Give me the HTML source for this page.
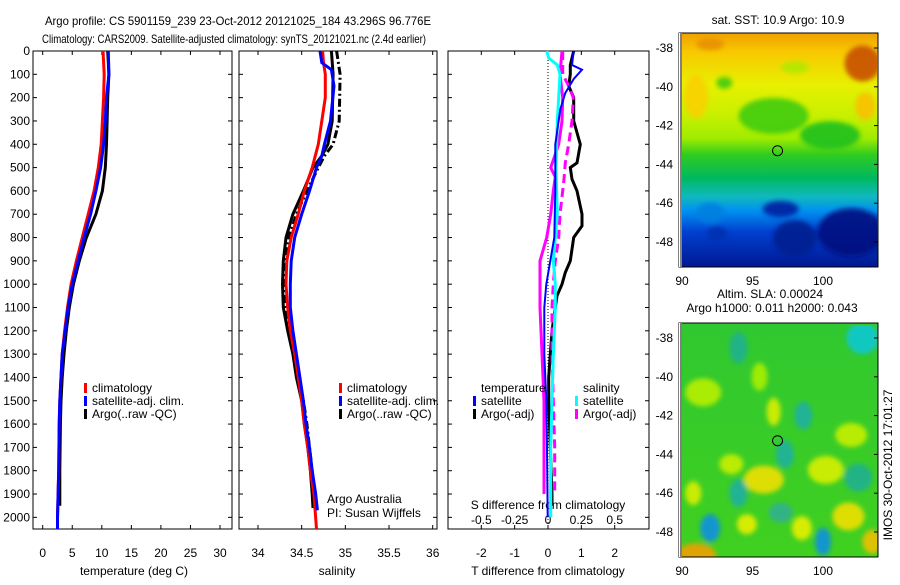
<!DOCTYPE html>
<html><head><meta charset="utf-8"><style>
body{margin:0;background:#fff;}
svg text{font-family:"Liberation Sans",sans-serif;font-size:12px;fill:#000;}
</style></head><body>
<svg id="fig" width="900" height="580" xmlns="http://www.w3.org/2000/svg">
<rect width="900" height="580" fill="#fff"/>
<text x="45" y="25" textLength="386" lengthAdjust="spacingAndGlyphs" font-size="14">Argo profile: CS 5901159_239 23-Oct-2012 20121025_184 43.296S 96.776E</text>
<text x="42" y="43" textLength="384" lengthAdjust="spacingAndGlyphs" font-size="14">Climatology: CARS2009. Satellite-adjusted climatology: synTS_20121021.nc (2.4d earlier)</text>
<g id="g1"></g>
<g id="g2"></g>
<g id="g3"></g>
<g id="m1"></g>
<g id="m2"></g>
<text transform="translate(892,465) rotate(-90)" text-anchor="middle">IMOS 30-Oct-2012 17:01:27</text>
</svg>
<script>
// ---- data ----
const depthTicks=[0,100,200,300,400,500,600,700,800,900,1000,1100,1200,1300,1400,1500,1600,1700,1800,1900,2000];
const tempTicks=[0,5,10,15,20,25,30];
const salTicks=[34,34.5,35,35.5,36];
const diffTTicks=[-2,-1,0,1,2];
const diffSTicks=[-0.5,-0.25,0,0.25,0.5];
const tDepth=[0,100,200,300,400,500,600,700,800,900,1000,1100,1200,1300,1400,1500,1600,1800,2000,2050];
const tClim=[10.2,10.4,10.3,10.1,9.9,9.4,8.7,7.7,6.7,5.7,4.8,4.2,3.7,3.3,3.1,2.9,2.8,2.7,2.5,2.5];
const tSat=[11.1,11.2,10.8,10.6,10.3,9.8,9.0,8.1,7.0,6.0,5.0,4.3,3.8,3.3,3.1,2.9,2.8,2.7,2.5,2.5];
const tArgoDepth=[0,100,200,300,400,500,600,700,800,900,1000,1100,1200,1300,1400,1500,1600,1800,1950];
const tArgo=[11.0,11.2,11.0,10.9,10.8,10.6,10.1,9.0,7.4,6.2,5.2,4.5,4.0,3.6,3.3,3.1,3.0,2.9,2.9];
const sDepth=[0,50,100,200,300,400,500,600,700,800,900,1000,1100,1200,1300,1400,1500,1600,1700,1800,1900,2050];
const sClim=[34.74,34.75,34.77,34.77,34.73,34.69,34.62,34.53,34.46,34.38,34.33,34.32,34.34,34.37,34.42,34.46,34.50,34.53,34.57,34.60,34.64,34.67];
const sSatDepth=[0,50,80,150,300,400,450,500,600,700,800,900,1000,1100,1200,1300,1400,1500,1600,1700,1800,1900,1970];
const sSat=[34.71,34.73,34.84,34.87,34.83,34.76,34.73,34.67,34.59,34.50,34.42,34.38,34.37,34.37,34.40,34.44,34.48,34.52,34.55,34.59,34.62,34.66,34.68];
const sArgoDepth=[0,100,300,400,450,500,600,700,800,900,1000,1100,1200,1300,1400,1500,1600,1700,1800,1900,1960];
const sArgo=[34.84,34.86,34.85,34.80,34.73,34.63,34.52,34.40,34.32,34.29,34.28,34.29,34.34,34.40,34.44,34.50,34.53,34.57,34.60,34.62,34.63];
const sArgoRaw=[34.90,34.94,34.93,34.86,34.76,34.69,34.56,34.44,34.35,34.31,34.30,34.31,34.36,34.42,34.46,34.52,34.56,34.59,34.62,34.64,34.65];
const dSatTDepth=[0,60,80,120,180,250,400,600,800,900,1000,1100,1300,1500,1700,2000];
const dSatT=[0.77,0.72,1.02,0.77,0.52,0.37,0.22,0.22,0.19,0.07,-0.05,-0.11,-0.11,-0.05,-0.03,-0.01];
const dArgoTDepth=[0,30,60,100,150,200,300,400,480,500,550,600,700,750,800,900,950,1000,1050,1100,1200,1300,1400,1500,1700,1900,1950];
const dArgoT=[0.77,0.72,0.67,0.67,0.62,0.77,0.77,0.97,0.87,0.67,0.72,0.87,1.02,1.02,0.77,0.67,0.52,0.42,0.27,0.22,0.12,0.07,0.02,0.02,0.07,0.12,0.12];
const dSatSDepth=[0,30,60,100,200,300,500,700,900,1000,1100,1300,1500,1700,2000];
const dSatS=[-0.01,0.005,0.07,0.09,0.08,0.07,0.06,0.07,0.04,0.055,0.055,0.04,0.03,0.02,0.02];
const dArgoSDepth=[0,100,150,200,300,400,480,550,600,700,800,900,1000,1100,1300,1500,1700,1900];
const dArgoSDash=[0.11,0.11,0.155,0.19,0.18,0.155,0.13,0.12,0.11,0.09,0.08,0.055,0.04,0.03,0.03,0.04,0.05,0.05];
const dArgoSSolidDepth=[0,100,200,300,400,500,540,600,700,800,900,1000,1100,1300,1500,1700,1900];
const dArgoSSolid=[0.105,0.09,0.11,0.105,0.08,0.02,0.055,0.04,0.02,-0.01,-0.06,-0.06,-0.06,-0.045,-0.03,-0.03,-0.03];

const NS='http://www.w3.org/2000/svg';
function el(parent,tag,attrs,txt){const e=document.createElementNS(NS,tag);for(const k in attrs)e.setAttribute(k,attrs[k]);if(txt!==undefined)e.textContent=txt;parent.appendChild(e);return e;}
const Y0=51,Y1=529;
const yD=d=>Y0+d*(Y1-Y0)/2050;
function lin(d0,d1,r0,r1){return v=>r0+(v-d0)*(r1-r0)/(d1-d0);}
function frame(g,x0,x1,name){
  const r=el(g,'rect',{x:x0,y:Y0,width:x1-x0,height:Y1-Y0,fill:'none',stroke:'#000','stroke-width':1});
  
  
  depthTicks.forEach(d=>{el(g,'line',{x1:x0,x2:x0+4,y1:yD(d),y2:yD(d),stroke:'#000'});el(g,'line',{x1:x1,x2:x1-4,y1:yD(d),y2:yD(d),stroke:'#000'});});
}
function series(g,xs,ds,fx,color,name,extra){
  const p=el(g,'polyline',Object.assign({points:xs.map((v,i)=>fx(v).toFixed(1)+','+yD(ds[i]).toFixed(1)).join(' '),fill:'none',stroke:color,'stroke-width':3,'stroke-linejoin':'miter'},extra||{}));
  
  
}
function xticks(g,ticks,fx,y,labels){ticks.forEach((t,i)=>{const x=fx(t);el(g,'line',{x1:x,x2:x,y1:Y1,y2:Y1-4,stroke:'#000'});el(g,'line',{x1:x,x2:x,y1:Y0,y2:Y0+4,stroke:'#000'});
  const tx=el(g,'text',{x:x,y:y,'text-anchor':'middle'},labels?labels[i]:String(t));
  
  });}
function legend(g,x,y,items){items.forEach((it,i)=>{el(g,'rect',{x:x,y:y+i*13-9,width:3,height:10,fill:it[0]});
  const t=el(g,'text',{x:x+8,y:y+i*13},it[1]);
  
  });}

// Panel 1
const g1=document.getElementById('g1');
const fT=lin(0,30,42.7,220);
frame(g1,33,232,'temperature-axes');
depthTicks.forEach(d=>{const t=el(g1,'text',{x:30,y:yD(d)+4,'text-anchor':'end'},String(d));
 
 });
xticks(g1,tempTicks,fT,557);
let t1=el(g1,'text',{x:134,y:575,'text-anchor':'middle'},'temperature (deg C)');


series(g1,tArgo,tArgoDepth,fT,'#000','argo-temperature-line');
series(g1,tClim,tDepth,fT,'#f00','climatology-temperature-line');
series(g1,tSat,tDepth,fT,'#00f','satellite-temperature-line');
legend(g1,84,392,[['#f00','climatology'],['#00f','satellite-adj. clim.'],['#000','Argo(..raw -QC)']]);

// Panel 2
const g2=document.getElementById('g2');
const fS=lin(34,36,258,432.7);
frame(g2,239,437,'salinity-axes');
xticks(g2,salTicks,fS,557);
let t2=el(g2,'text',{x:337,y:575,'text-anchor':'middle'},'salinity');


series(g2,sArgoRaw,sArgoDepth,fS,'#000','argo-raw-salinity-line',{'stroke-dasharray':'8,3,2,3'});
series(g2,sArgo,sArgoDepth,fS,'#000','argo-salinity-line');
series(g2,sClim,sDepth,fS,'#f00','climatology-salinity-line');
series(g2,sSat,sSatDepth,fS,'#00f','satellite-salinity-line');
legend(g2,339,392,[['#f00','climatology'],['#00f','satellite-adj. clim.'],['#000','Argo(..raw -QC)']]);
let a1=el(g2,'text',{x:327,y:503},'Argo Australia');
let a2=el(g2,'text',{x:327,y:517},'PI: Susan Wijffels');

// Panel 3
const g3=document.getElementById('g3');
const fD=lin(0,2,548,614.7);
const fDS=s=>fD(s*4);
frame(g3,448,649,'difference-axes');
el(g3,'line',{x1:fD(0),x2:fD(0),y1:Y0,y2:Y1,stroke:'#000','stroke-dasharray':'1,2'});
xticks(g3,diffTTicks,fD,557);
diffSTicks.forEach(s=>{const t=el(g3,'text',{x:fDS(s),y:524,'text-anchor':'middle'},String(s));});
let t3=el(g3,'text',{x:548,y:509,'text-anchor':'middle'},'S difference from climatology');
let t4=el(g3,'text',{x:548,y:575,'text-anchor':'middle'},'T difference from climatology');
series(g3,dArgoT,dArgoTDepth,fD,'#000','argo-temp-diff-line');
series(g3,dArgoSSolid,dArgoSSolidDepth,fDS,'#f0f','argo-sal-diff-line');
series(g3,dArgoSDash,dArgoSDepth,fDS,'#f0f','argo-raw-sal-diff-line',{'stroke-dasharray':'9,5'});
series(g3,dSatS,dSatSDepth,fDS,'#0ff','satellite-sal-diff-line');
series(g3,dSatT,dSatTDepth,fD,'#00f','satellite-temp-diff-line',{'stroke-width':2});
let lt=el(g3,'text',{x:481,y:392},'temperature');
let ls=el(g3,'text',{x:583,y:392},'salinity');
legend(g3,473,405,[['#00f','satellite'],['#000','Argo(-adj)']]);
legend(g3,575,405,[['#0ff','satellite'],['#f0f','Argo(-adj)']]);

// Maps
const lonTicks=[90,95,100], latTicks=[-38,-40,-42,-44,-46,-48];
function mapFrame(g,top,title1,title2,stops,blobs,name){
  const fx=lin(90,100,682,823), fy=lin(-38,-48,top+15,top+209);
  const id='grad'+top;
  const defs=el(g,'defs',{});
  const lg=el(defs,'linearGradient',{id:id,x1:0,y1:0,x2:0,y2:1});
  stops.forEach(s=>el(lg,'stop',{offset:s[0],'stop-color':s[1]}));
  const fl='blur'+top;const f=el(defs,'filter',{id:fl});el(f,'feGaussianBlur',{stdDeviation:2.5});
  const bg=el(g,'rect',{x:679,y:top,width:199,height:234,fill:'url(#'+id+')'});
  
  
  const cp='clip'+top;const c=el(defs,'clipPath',{id:cp});el(c,'rect',{x:681,y:top+2,width:196,height:232});
  const bl=el(g,'g',{'clip-path':'url(#'+cp+')'});
  const bl2=el(bl,'g',{filter:'url(#'+fl+')'});
  blobs.forEach(b=>el(bl2,'ellipse',{cx:fx(b[0]),cy:fy(b[1]),rx:b[2],ry:b[3],fill:b[4],opacity:0.9}));
  el(g,'rect',{x:679,y:top,width:199,height:234,fill:'none',stroke:'#000'});
  el(g,'rect',{x:679,y:top,width:3,height:234,fill:'#fff'});
  el(g,'line',{x1:681,x2:681,y1:top,y2:top+234,stroke:'#000'});
  latTicks.forEach(l=>{const t=el(g,'text',{x:673,y:fy(l)+4,'text-anchor':'end'},String(l));
    el(g,'line',{x1:878,x2:874,y1:fy(l),y2:fy(l),stroke:'#000'});});
  lonTicks.forEach(l=>{const t=el(g,'text',{x:fx(l),y:top+252,'text-anchor':'middle'},String(l));});
  const m=el(g,'circle',{cx:fx(96.776),cy:fy(-43.296),r:5,fill:'none',stroke:'#000'});
  
  
  if(title2){let a=el(g,'text',{x:770,y:top-25,'text-anchor':'middle'},title1);
    let b=el(g,'text',{x:772,y:top-11,'text-anchor':'middle'},title2);}
  else{let a=el(g,'text',{x:778,y:top-9,'text-anchor':'middle'},title1);}
}
mapFrame(document.getElementById('m1'),33,'sat. SST: 10.9  Argo: 10.9',null,
 [[0,'#f0a000'],[0.08,'#f8c800'],[0.22,'#e8f000'],[0.35,'#c8f000'],[0.45,'#a0ec00'],[0.52,'#30cc20'],[0.62,'#00b860'],[0.7,'#10b8c0'],[0.76,'#0090f0'],[0.85,'#0040d0'],[1,'#001890']],
 [[102.8,-38.8,18,18,'#c85000'],[92,-37.8,14,6,'#e89000'],[96.5,-41.5,35,18,'#40cc10'],[100.5,-42.5,30,14,'#20c020'],[93,-39.8,8,6,'#40cc10'],[98,-39,14,6,'#b0e800'],[91,-40.5,12,22,'#f8d000'],[103,-41,10,14,'#f8c000'],[102,-47.5,34,24,'#001080'],[98,-47.8,22,18,'#002090'],[97,-46.3,18,8,'#0020a0'],[92,-46.5,14,10,'#0080e0'],[92.5,-47.6,10,8,'#0030b0']],'sst-map');
mapFrame(document.getElementById('m2'),323,'Altim. SLA: 0.00024','Argo h1000: 0.011 h2000: 0.043',
 [[0,'#30c830'],[1,'#40d020']],
 [[94,-38.5,9,16,'#20b090'],[102.8,-38,16,16,'#10c8d0'],[98.6,-42,9,14,'#20b0a0'],[97.3,-44,9,14,'#20b0a0'],[96.5,-41.8,7,14,'#d8f000'],[91.5,-40.8,18,14,'#b8f000'],[95.5,-40,8,14,'#a8f000'],[95.8,-45.3,20,14,'#f0e000'],[93.5,-44.5,12,10,'#c8f000'],[100.2,-44.8,18,14,'#d8f000'],[102,-43,16,12,'#c8f000'],[102.5,-45.2,14,14,'#20b090'],[94,-46,9,14,'#20b0a0'],[97,-47,12,10,'#30b090'],[92,-47.8,10,14,'#1090e0'],[100,-48.5,8,14,'#1090e0'],[101.8,-47.2,16,14,'#f0e000'],[91,-49.2,20,12,'#f0a000'],[94.6,-47.6,10,10,'#e8f000'],[98.5,-47.8,10,12,'#e8f000'],[103.5,-48.5,10,12,'#f0c000'],[90.8,-46,8,12,'#d8f000']],'sla-map');
</script>
</body></html>
